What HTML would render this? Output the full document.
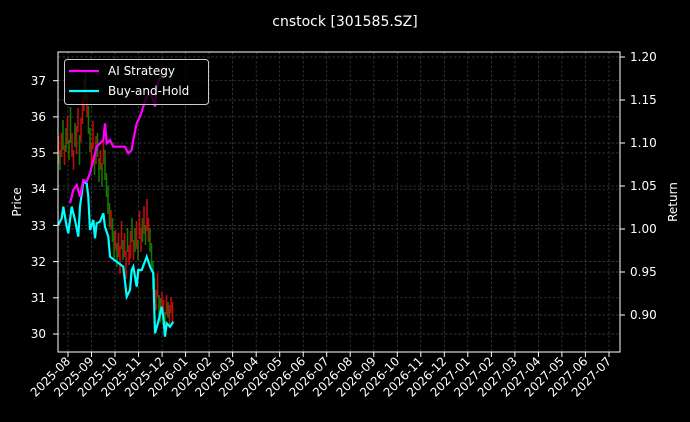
<!DOCTYPE html>
<html><head><meta charset="utf-8"><style>body{margin:0;background:#000;}svg{display:block;font-family:"DejaVu Sans","Liberation Sans",sans-serif;}</style></head><body>
<svg width="690" height="422" viewBox="0 0 690 422" xmlns="http://www.w3.org/2000/svg">
<rect width="690" height="422" fill="#000"/>
<text x="345" y="26" fill="#fff" font-size="14" text-anchor="middle">cnstock [301585.SZ]</text>
<g stroke="#444" stroke-width="0.7" stroke-dasharray="2.5,2">
<line x1="58" x2="620" y1="334" y2="334"/><line x1="58" x2="620" y1="297.8" y2="297.8"/><line x1="58" x2="620" y1="261.6" y2="261.6"/><line x1="58" x2="620" y1="225.4" y2="225.4"/><line x1="58" x2="620" y1="189.2" y2="189.2"/><line x1="58" x2="620" y1="153" y2="153"/><line x1="58" x2="620" y1="116.9" y2="116.9"/><line x1="58" x2="620" y1="80.7" y2="80.7"/>
<line x1="58" x2="620" y1="57" y2="57"/><line x1="58" x2="620" y1="100" y2="100"/><line x1="58" x2="620" y1="143" y2="143"/><line x1="58" x2="620" y1="186" y2="186"/><line x1="58" x2="620" y1="229" y2="229"/><line x1="58" x2="620" y1="272" y2="272"/><line x1="58" x2="620" y1="315" y2="315"/>
<line x1="68" x2="68" y1="52" y2="352"/><line x1="91.5" x2="91.5" y1="52" y2="352"/><line x1="115" x2="115" y1="52" y2="352"/><line x1="138.6" x2="138.6" y1="52" y2="352"/><line x1="162.1" x2="162.1" y1="52" y2="352"/><line x1="185.6" x2="185.6" y1="52" y2="352"/><line x1="209.1" x2="209.1" y1="52" y2="352"/><line x1="232.6" x2="232.6" y1="52" y2="352"/><line x1="256.2" x2="256.2" y1="52" y2="352"/><line x1="279.7" x2="279.7" y1="52" y2="352"/><line x1="303.2" x2="303.2" y1="52" y2="352"/><line x1="326.7" x2="326.7" y1="52" y2="352"/><line x1="350.2" x2="350.2" y1="52" y2="352"/><line x1="373.8" x2="373.8" y1="52" y2="352"/><line x1="397.3" x2="397.3" y1="52" y2="352"/><line x1="420.8" x2="420.8" y1="52" y2="352"/><line x1="444.3" x2="444.3" y1="52" y2="352"/><line x1="467.8" x2="467.8" y1="52" y2="352"/><line x1="491.4" x2="491.4" y1="52" y2="352"/><line x1="514.9" x2="514.9" y1="52" y2="352"/><line x1="538.4" x2="538.4" y1="52" y2="352"/><line x1="561.9" x2="561.9" y1="52" y2="352"/><line x1="585.4" x2="585.4" y1="52" y2="352"/><line x1="609" x2="609" y1="52" y2="352"/>
</g>
<g stroke-width="1.6" opacity="0.85">
<line x1="58.5" x2="58.5" y1="136" y2="164" stroke="#e01010"/><line x1="60" x2="60" y1="150" y2="170" stroke="#1a8a00"/><line x1="61.5" x2="61.5" y1="133" y2="157" stroke="#e01010"/><line x1="63" x2="63" y1="120" y2="150" stroke="#1a8a00"/><line x1="64.5" x2="64.5" y1="145" y2="165" stroke="#e01010"/><line x1="66" x2="66" y1="128" y2="152" stroke="#1a8a00"/><line x1="67.5" x2="67.5" y1="116" y2="144" stroke="#e01010"/><line x1="69" x2="69" y1="140" y2="160" stroke="#1a8a00"/><line x1="70.5" x2="70.5" y1="107" y2="143" stroke="#1a8a00"/><line x1="72" x2="72" y1="133" y2="157" stroke="#e01010"/><line x1="73.5" x2="73.5" y1="150" y2="170" stroke="#e01010"/><line x1="75" x2="75" y1="123" y2="147" stroke="#1a8a00"/><line x1="76.5" x2="76.5" y1="126" y2="154" stroke="#e01010"/><line x1="78" x2="78" y1="108" y2="132" stroke="#e01010"/><line x1="79.5" x2="79.5" y1="135" y2="165" stroke="#1a8a00"/><line x1="81" x2="81" y1="118" y2="142" stroke="#e01010"/><line x1="82.5" x2="82.5" y1="96" y2="124" stroke="#e01010"/><line x1="84" x2="84" y1="79" y2="111" stroke="#e01010"/><line x1="85.5" x2="85.5" y1="70" y2="100" stroke="#1a8a00"/><line x1="87" x2="87" y1="93" y2="117" stroke="#e01010"/><line x1="88.5" x2="88.5" y1="106" y2="134" stroke="#1a8a00"/><line x1="90" x2="90" y1="128" y2="152" stroke="#1a8a00"/><line x1="91.5" x2="91.5" y1="143" y2="167" stroke="#e01010"/><line x1="93" x2="93" y1="121" y2="149" stroke="#e01010"/><line x1="94.5" x2="94.5" y1="155" y2="175" stroke="#1a8a00"/><line x1="96" x2="96" y1="136" y2="164" stroke="#e01010"/><line x1="97.5" x2="97.5" y1="133" y2="157" stroke="#1a8a00"/><line x1="99" x2="99" y1="158" y2="182" stroke="#1a8a00"/><line x1="100.5" x2="100.5" y1="150" y2="170" stroke="#e01010"/><line x1="102" x2="102" y1="163" y2="187" stroke="#1a8a00"/><line x1="103.5" x2="103.5" y1="136" y2="164" stroke="#e01010"/><line x1="105" x2="105" y1="150" y2="180" stroke="#1a8a00"/><line x1="106.5" x2="106.5" y1="173" y2="197" stroke="#1a8a00"/><line x1="108" x2="108" y1="186" y2="214" stroke="#1a8a00"/><line x1="109.5" x2="109.5" y1="203" y2="227" stroke="#1a8a00"/><line x1="111" x2="111" y1="210" y2="230" stroke="#e01010"/><line x1="112.5" x2="112.5" y1="218" y2="242" stroke="#1a8a00"/><line x1="114" x2="114" y1="231" y2="259" stroke="#1a8a00"/><line x1="115.5" x2="115.5" y1="230" y2="250" stroke="#e01010"/><line x1="117" x2="117" y1="243" y2="267" stroke="#1a8a00"/><line x1="118.5" x2="118.5" y1="233" y2="257" stroke="#e01010"/><line x1="120" x2="120" y1="246" y2="274" stroke="#e01010"/><line x1="121.5" x2="121.5" y1="221" y2="249" stroke="#e01010"/><line x1="123" x2="123" y1="240" y2="260" stroke="#1a8a00"/><line x1="124.5" x2="124.5" y1="233" y2="257" stroke="#e01010"/><line x1="126" x2="126" y1="251" y2="279" stroke="#e01010"/><line x1="127.5" x2="127.5" y1="228" y2="252" stroke="#1a8a00"/><line x1="129" x2="129" y1="245" y2="265" stroke="#e01010"/><line x1="130.5" x2="130.5" y1="231" y2="259" stroke="#e01010"/><line x1="132" x2="132" y1="218" y2="242" stroke="#1a8a00"/><line x1="133.5" x2="133.5" y1="240" y2="260" stroke="#e01010"/><line x1="135" x2="135" y1="228" y2="252" stroke="#1a8a00"/><line x1="136.5" x2="136.5" y1="221" y2="249" stroke="#e01010"/><line x1="138" x2="138" y1="240" y2="260" stroke="#1a8a00"/><line x1="139.5" x2="139.5" y1="211" y2="239" stroke="#e01010"/><line x1="141" x2="141" y1="228" y2="252" stroke="#e01010"/><line x1="142.5" x2="142.5" y1="218" y2="242" stroke="#1a8a00"/><line x1="144" x2="144" y1="206" y2="234" stroke="#e01010"/><line x1="145.5" x2="145.5" y1="225" y2="245" stroke="#1a8a00"/><line x1="147" x2="147" y1="199" y2="231" stroke="#e01010"/><line x1="148.5" x2="148.5" y1="218" y2="242" stroke="#e01010"/><line x1="150" x2="150" y1="228" y2="252" stroke="#1a8a00"/><line x1="151.5" x2="151.5" y1="243" y2="267" stroke="#1a8a00"/><line x1="153" x2="153" y1="261" y2="289" stroke="#1a8a00"/><line x1="154.5" x2="154.5" y1="278" y2="302" stroke="#1a8a00"/><line x1="156" x2="156" y1="290" y2="310" stroke="#e01010"/><line x1="157.5" x2="157.5" y1="273" y2="297" stroke="#e01010"/><line x1="159" x2="159" y1="295" y2="315" stroke="#1a8a00"/><line x1="160.5" x2="160.5" y1="298" y2="322" stroke="#1a8a00"/><line x1="162" x2="162" y1="292" y2="308" stroke="#e01010"/><line x1="163.5" x2="163.5" y1="300" y2="320" stroke="#e01010"/><line x1="165" x2="165" y1="312" y2="328" stroke="#1a8a00"/><line x1="166.5" x2="166.5" y1="295" y2="315" stroke="#e01010"/><line x1="168" x2="168" y1="302" y2="318" stroke="#1a8a00"/><line x1="169.5" x2="169.5" y1="305" y2="325" stroke="#e01010"/><line x1="171" x2="171" y1="297" y2="313" stroke="#e01010"/><line x1="172.5" x2="172.5" y1="302" y2="322" stroke="#e01010"/>
</g>
<polyline fill="none" stroke="#00ffff" stroke-width="2.2" points="58.3,225 61.7,218.3 63.3,206.7 66.7,226.7 68.3,233.3 71.7,206.7 75,220 78.3,236.7 80,206.7 83.3,181.7 86.7,183.3 88.3,196.7 90,230 93.3,220 95,238.3 96.7,223.3 100,221.7 103.3,213.3 105,226.7 108.3,236.7 110,256.7 116.7,261.7 123.3,266.7 126.7,296.7 130,290 131.7,270 133.3,266.7 135,276.7 136.7,286.7 138.3,270 141.7,270 146.7,256.7 150,266.7 153.3,273.3 155,333.3 158.3,321.7 161.7,306.7 163.3,316.7 165,336.7 166.7,323.3 170,326.7 173.3,321.7"/>
<polyline fill="none" stroke="#ff00ff" stroke-width="2.2" points="70,203.3 73.3,190 76.7,185 80,196.7 83.3,180 86.7,181.7 90,173.3 93.3,160 96.7,146.7 100,143.3 103.3,140 105,123.3 106.7,143.3 110,140 113.3,146.7 120,146.7 125,146.7 128.3,153.3 131.7,150 133.3,140 136.7,123.3 140,116.7 143.3,106.7 146.7,96.7 150,93.3 153.3,100 155,106.7 156.7,86.7 160,76.7 163.3,73.3"/>
<rect x="58" y="52" width="562" height="300" fill="none" stroke="#fff" stroke-width="1"/>
<g fill="#fff" font-size="12" text-anchor="end">
<text x="46" y="338">30</text><text x="46" y="302">31</text><text x="46" y="266">32</text><text x="46" y="230">33</text><text x="46" y="193">34</text><text x="46" y="157">35</text><text x="46" y="121">36</text><text x="46" y="85">37</text>
</g>
<g stroke="#fff"><line x1="53" x2="58" y1="334" y2="334"/><line x1="53" x2="58" y1="297.8" y2="297.8"/><line x1="53" x2="58" y1="261.6" y2="261.6"/><line x1="53" x2="58" y1="225.4" y2="225.4"/><line x1="53" x2="58" y1="189.2" y2="189.2"/><line x1="53" x2="58" y1="153" y2="153"/><line x1="53" x2="58" y1="116.9" y2="116.9"/><line x1="53" x2="58" y1="80.7" y2="80.7"/>
<line x1="620" x2="625" y1="57" y2="57"/><line x1="620" x2="625" y1="100" y2="100"/><line x1="620" x2="625" y1="143" y2="143"/><line x1="620" x2="625" y1="186" y2="186"/><line x1="620" x2="625" y1="229" y2="229"/><line x1="620" x2="625" y1="272" y2="272"/><line x1="620" x2="625" y1="315" y2="315"/>
<line x1="68" x2="68" y1="352" y2="357"/><line x1="91.5" x2="91.5" y1="352" y2="357"/><line x1="115" x2="115" y1="352" y2="357"/><line x1="138.6" x2="138.6" y1="352" y2="357"/><line x1="162.1" x2="162.1" y1="352" y2="357"/><line x1="185.6" x2="185.6" y1="352" y2="357"/><line x1="209.1" x2="209.1" y1="352" y2="357"/><line x1="232.6" x2="232.6" y1="352" y2="357"/><line x1="256.2" x2="256.2" y1="352" y2="357"/><line x1="279.7" x2="279.7" y1="352" y2="357"/><line x1="303.2" x2="303.2" y1="352" y2="357"/><line x1="326.7" x2="326.7" y1="352" y2="357"/><line x1="350.2" x2="350.2" y1="352" y2="357"/><line x1="373.8" x2="373.8" y1="352" y2="357"/><line x1="397.3" x2="397.3" y1="352" y2="357"/><line x1="420.8" x2="420.8" y1="352" y2="357"/><line x1="444.3" x2="444.3" y1="352" y2="357"/><line x1="467.8" x2="467.8" y1="352" y2="357"/><line x1="491.4" x2="491.4" y1="352" y2="357"/><line x1="514.9" x2="514.9" y1="352" y2="357"/><line x1="538.4" x2="538.4" y1="352" y2="357"/><line x1="561.9" x2="561.9" y1="352" y2="357"/><line x1="585.4" x2="585.4" y1="352" y2="357"/><line x1="609" x2="609" y1="352" y2="357"/></g>
<g fill="#fff" font-size="12" text-anchor="end">
<text transform="translate(71,362) rotate(-45)">2025-08</text><text transform="translate(94.5,362) rotate(-45)">2025-09</text><text transform="translate(118,362) rotate(-45)">2025-10</text><text transform="translate(141.6,362) rotate(-45)">2025-11</text><text transform="translate(165.1,362) rotate(-45)">2025-12</text><text transform="translate(188.6,362) rotate(-45)">2026-01</text><text transform="translate(212.1,362) rotate(-45)">2026-02</text><text transform="translate(235.6,362) rotate(-45)">2026-03</text><text transform="translate(259.2,362) rotate(-45)">2026-04</text><text transform="translate(282.7,362) rotate(-45)">2026-05</text><text transform="translate(306.2,362) rotate(-45)">2026-06</text><text transform="translate(329.7,362) rotate(-45)">2026-07</text><text transform="translate(353.2,362) rotate(-45)">2026-08</text><text transform="translate(376.8,362) rotate(-45)">2026-09</text><text transform="translate(400.3,362) rotate(-45)">2026-10</text><text transform="translate(423.8,362) rotate(-45)">2026-11</text><text transform="translate(447.3,362) rotate(-45)">2026-12</text><text transform="translate(470.8,362) rotate(-45)">2027-01</text><text transform="translate(494.4,362) rotate(-45)">2027-02</text><text transform="translate(517.9,362) rotate(-45)">2027-03</text><text transform="translate(541.4,362) rotate(-45)">2027-04</text><text transform="translate(564.9,362) rotate(-45)">2027-05</text><text transform="translate(588.4,362) rotate(-45)">2027-06</text><text transform="translate(612,362) rotate(-45)">2027-07</text>
</g>
<g fill="#fff" font-size="12">
<text x="630" y="61">1.20</text><text x="630" y="104">1.15</text><text x="630" y="147">1.10</text><text x="630" y="190">1.05</text><text x="630" y="233">1.00</text><text x="630" y="276">0.95</text><text x="630" y="319">0.90</text>
</g>
<text transform="translate(21,202) rotate(-90)" fill="#fff" font-size="12" text-anchor="middle">Price</text>
<text transform="translate(677,202) rotate(-90)" fill="#fff" font-size="12" text-anchor="middle">Return</text>
<rect x="64.5" y="59.5" width="144" height="45" rx="3" fill="#000" fill-opacity="0.8" stroke="#ccc"/>
<line x1="69" x2="99" y1="71" y2="71" stroke="#ff00ff" stroke-width="2.2"/>
<line x1="69" x2="99" y1="91" y2="91" stroke="#00ffff" stroke-width="2.2"/>
<text x="108" y="75" fill="#fff" font-size="12">AI Strategy</text>
<text x="108" y="95" fill="#fff" font-size="12">Buy-and-Hold</text>
</svg>
</body></html>
